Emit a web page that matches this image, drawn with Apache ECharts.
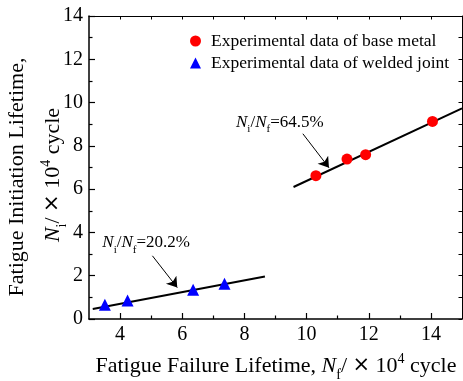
<!DOCTYPE html>
<html>
<head>
<meta charset="utf-8">
<script src="https://cdn.jsdelivr.net/npm/echarts@6/dist/echarts.min.js"></script>
<style>
  html, body { margin: 0; padding: 0; background: #fff; }
  #chart { width: 463px; height: 381px; }
</style>
</head>
<body>
<div id="chart"></div>
<script>
// base metal: failure lifetime vs initiation lifetime (x10^4 cycle)
const baseX = [10.3, 11.3, 11.9, 14.05];
const baseY = [6.62, 7.39, 7.59, 9.13];
// welded joint
const weldX = [3.51, 4.24, 6.35, 7.36];
const weldY = [0.66, 0.86, 1.35, 1.63];
// fitted lines (end points)
const baseFit = [[9.58, 6.10], [15, 9.73]];
const weldFit = [[3.12, 0.46], [8.66, 1.96]];
// annotations
const noteText = ["64.5%", "20.2%"];
const notePos = [[7.73, 9.1], [3.43, 3.52]];
const arrowCoords = [
  [[9.88, 8.56], [10.72, 6.99]],
  [[5.04, 2.92], [5.84, 1.45]],
];
// ticks
const xMajor = [4, 6, 8, 10, 12, 14];
const xMinor = [5, 7, 9, 11, 13];
const xAll = [4, 5, 6, 7, 8, 9, 10, 11, 12, 13, 14];

const FONT = "'Liberation Serif', 'Times New Roman', serif";
const chart = echarts.init(document.getElementById("chart"));

const zip = (xs, ys) => xs.map((x, i) => [x, ys[i]]);

const noteRich = {
  n: { fontFamily: FONT, fontSize: 17, fontStyle: "italic", color: "#000" },
  s: { fontFamily: FONT, fontSize: 11, color: "#000", verticalAlign: "bottom", padding: [0, 0, -4, 0] },
  t: { fontFamily: FONT, fontSize: 17, color: "#000" },
};
const nameRich = {
  n: { fontFamily: FONT, fontSize: 22, fontStyle: "italic", fill: "#000" },
  s: { fontFamily: FONT, fontSize: 14, fill: "#000", verticalAlign: "bottom", padding: [0, 0, -5, 0] },
  t: { fontFamily: FONT, fontSize: 22, fill: "#000" },
  x: { fontFamily: "'DejaVu Sans', sans-serif", fontSize: 21, fill: "#000" },
  p: { fontFamily: FONT, fontSize: 14, fill: "#000", verticalAlign: "top", padding: [-3, 0, 0, 0] },
};

chart.setOption({
  animation: false,
  grid: { left: 89, right: 1, top: 16, bottom: 62 },
  xAxis: [
    {
      type: "value", min: 3, max: 15, position: "bottom",
      axisLine: { lineStyle: { color: "#000", width: 1.5 } },
      axisTick: { inside: true, length: 6, customValues: xMajor, lineStyle: { color: "#000", width: 1.2 } },
      axisLabel: { customValues: xMajor, fontFamily: FONT, fontSize: 20, color: "#000", margin: 6 },
      splitLine: { show: false },
    },
    {
      type: "value", min: 3, max: 15, position: "bottom",
      axisLine: { show: false },
      axisTick: { inside: true, length: 3.5, customValues: xMinor, lineStyle: { color: "#000", width: 1.2 } },
      axisLabel: { show: false },
      splitLine: { show: false },
    },
    {
      type: "value", min: 3, max: 15, position: "top",
      axisLine: { lineStyle: { color: "#000", width: 1 } },
      axisTick: { inside: true, length: 3.5, customValues: xAll, lineStyle: { color: "#000" } },
      axisLabel: { show: false },
      splitLine: { show: false },
    },
  ],
  yAxis: [
    {
      type: "value", min: 0, max: 14, interval: 2, position: "left",
      axisLine: { show: true, lineStyle: { color: "#000", width: 1.5 } },
      axisTick: { inside: true, length: 6, lineStyle: { color: "#000", width: 1.2 } },
      minorTick: { show: true, splitNumber: 2, length: 3.5, lineStyle: { color: "#000", width: 1.2 } },
      axisLabel: { fontFamily: FONT, fontSize: 20, color: "#000", margin: 6 },
      splitLine: { show: false },
    },
    {
      type: "value", min: 0, max: 14, interval: 2, position: "right",
      axisLine: { show: true, lineStyle: { color: "#000", width: 1 } },
      axisTick: { inside: true, length: 3.5, lineStyle: { color: "#000" } },
      minorTick: { show: true, splitNumber: 2, length: 3.5, lineStyle: { color: "#000" } },
      axisLabel: { show: false },
      splitLine: { show: false },
    },
  ],
  legend: {
    orient: "vertical",
    left: 185,
    top: 27,
    itemWidth: 11,
    itemHeight: 11,
    itemGap: 4,
    data: ["Experimental data of base metal", "Experimental data of welded joint"],
    textStyle: { fontFamily: FONT, fontSize: 17.5, color: "#000", padding: [0, 0, 0, 5] },
  },
  series: [
    {
      type: "line", data: baseFit, symbol: "none", silent: true,
      lineStyle: { color: "#000", width: 2 }, z: 1,
    },
    {
      type: "line", data: weldFit, symbol: "none", silent: true,
      lineStyle: { color: "#000", width: 2 }, z: 1,
    },
    {
      name: "Experimental data of base metal",
      type: "scatter", data: zip(baseX, baseY),
      symbol: "circle", symbolSize: 11,
      itemStyle: { color: "#ff0000", opacity: 1 }, z: 3,
    },
    {
      name: "Experimental data of welded joint",
      type: "scatter", data: zip(weldX, weldY),
      symbol: "triangle", symbolSize: 12,
      itemStyle: { color: "#0000ff", opacity: 1 }, z: 3,
    },
    {
      type: "lines", coordinateSystem: "cartesian2d", silent: true,
      symbol: ["none", "arrow"], symbolSize: [6, 10],
      lineStyle: { color: "#000", width: 1, opacity: 1 },
      data: arrowCoords.map((c) => ({ coords: c })),
      z: 4,
    },
    {
      type: "scatter", silent: true, symbolSize: 0,
      itemStyle: { opacity: 1 },
      data: notePos,
      label: {
        show: true, position: "right", distance: 0, opacity: 1,
        formatter: (p) => `{n|N}{s|i}{t|/}{n|N}{s|f}{t|=${noteText[p.dataIndex]}}`,
        rich: noteRich,
      },
      z: 5,
    },
  ],
  graphic: [
    {
      type: "text", x: 17, y: 177, rotation: Math.PI / 2,
      style: {
        text: "Fatigue Initiation Lifetime,", fontFamily: FONT, fontSize: 22,
        fill: "#000", align: "center", verticalAlign: "middle",
      },
    },
    {
      type: "text", x: 53, y: 175, rotation: Math.PI / 2,
      style: {
        text: "{n|N}{s|i}{t|/ }{x|×}{t| 10}{p|4}{t| cycle}",
        align: "center", verticalAlign: "middle",
        rich: nameRich,
      },
    },
    {
      type: "text", x: 276, y: 366,
      style: {
        text: "{t|Fatigue Failure Lifetime, }{n|N}{s|f}{t|/ }{x|×}{t| 10}{p|4}{t| cycle}",
        align: "center", verticalAlign: "middle",
        rich: nameRich,
      },
    },
  ],
});
</script>
</body>
</html>
